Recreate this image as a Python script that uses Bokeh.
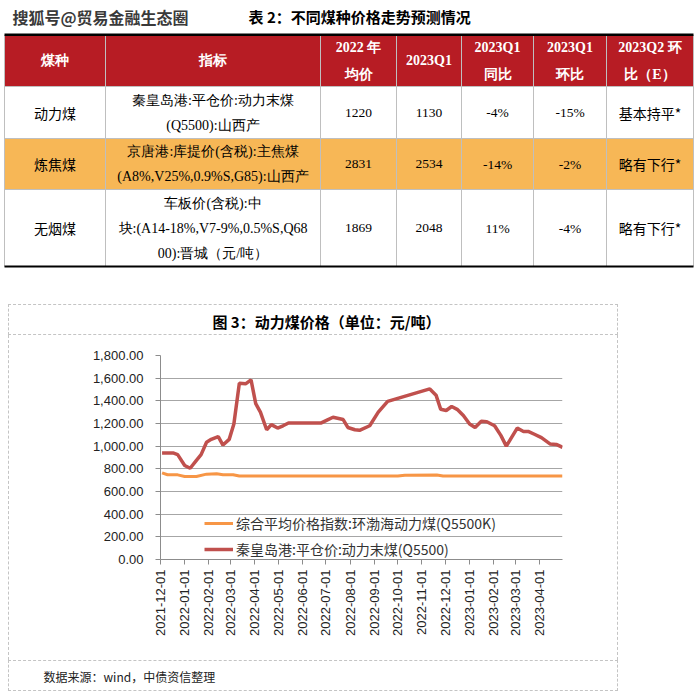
import math
import pandas as pd
from bokeh.plotting import figure
from bokeh.layouts import column, row
from bokeh.models import (Range1d, FixedTicker, NumeralTickFormatter, DatetimeTickFormatter,
                          Legend, LegendItem, ColumnDataSource, Spacer)
from bokeh.core.properties import value
from bokeh.embed import file_html
from bokeh.resources import INLINE

# ---------------- data ----------------
watermark = "搜狐号@贸易金融生态圈"
table_title = "表 2：不同煤种价格走势预测情况"
header_top = ["煤种", "指标", "2022 年", "2023Q1", "2023Q1", "2023Q1", "2023Q2 环"]
header_bottom = ["", "", "均价", "", "同比", "环比", "比（E）"]
coal_types = ["动力煤", "炼焦煤", "无烟煤"]
indicator_lines = [
    ["秦皇岛港:平仓价:动力末煤", "(Q5500):山西产"],
    ["京唐港:库提价(含税):主焦煤", "(A8%,V25%,0.9%S,G85):山西产"],
    ["车板价(含税):中", "块:(A14-18%,V7-9%,0.5%S,Q68", "00):晋城（元/吨）"],
]
avg_2022 = ["1220", "2831", "1869"]
q1_2023 = ["1130", "2534", "2048"]
q1_yoy = ["-4%", "-14%", "11%"]
q1_qoq = ["-15%", "-2%", "-4%"]
q2_outlook = ["基本持平*", "略有下行*", "略有下行*"]

chart_title = "图 3：动力煤价格（单位：元/吨）"
source_note = "数据来源：wind，中债资信整理"
series_names = ["综合平均价格指数:环渤海动力煤(Q5500K)", "秦皇岛港:平仓价:动力末煤(Q5500)"]
month_ticks = ["2021-12-01", "2022-01-01", "2022-02-01", "2022-03-01", "2022-04-01",
               "2022-05-01", "2022-06-01", "2022-07-01", "2022-08-01", "2022-09-01",
               "2022-10-01", "2022-11-01", "2022-12-01", "2023-01-01", "2023-02-01",
               "2023-03-01", "2023-04-01"]
y_ticks = [0, 200, 400, 600, 800, 1000, 1200, 1400, 1600, 1800]

index_dates = ["2021-12-03", "2021-12-10", "2021-12-23", "2022-01-01", "2022-01-16",
               "2022-01-29", "2022-02-11", "2022-02-19", "2022-03-04", "2022-03-12",
               "2022-10-01", "2022-10-10", "2022-11-20", "2022-11-28", "2023-04-30"]
index_values = [765, 748, 747, 733, 733, 753, 756, 748, 748, 736,
                736, 744, 746, 736, 736]

port_dates = ["2021-12-03", "2021-12-17", "2021-12-23", "2022-01-01", "2022-01-08",
              "2022-01-16", "2022-01-22", "2022-01-29", "2022-02-04", "2022-02-13",
              "2022-02-19", "2022-02-27", "2022-03-05", "2022-03-12", "2022-03-20",
              "2022-03-27", "2022-04-02", "2022-04-08", "2022-04-16", "2022-04-22",
              "2022-04-30", "2022-05-07", "2022-05-14", "2022-06-25", "2022-07-01",
              "2022-07-10", "2022-07-23", "2022-07-29", "2022-08-07", "2022-08-13",
              "2022-08-26", "2022-09-06", "2022-09-18", "2022-11-11", "2022-11-19",
              "2022-11-25", "2022-12-02", "2022-12-09", "2022-12-16", "2022-12-24",
              "2023-01-01", "2023-01-08", "2023-01-16", "2023-01-23", "2023-02-02",
              "2023-02-10", "2023-02-17", "2023-02-24", "2023-03-03", "2023-03-11",
              "2023-03-17", "2023-03-25", "2023-04-03", "2023-04-14", "2023-04-22",
              "2023-04-30"]
port_values = [940, 940, 925, 830, 805, 875, 925, 1035, 1060, 1085,
               1010, 1060, 1195, 1555, 1550, 1585, 1375, 1300, 1145, 1190,
               1160, 1180, 1205, 1205, 1225, 1255, 1235, 1165, 1145, 1140,
               1180, 1300, 1395, 1505, 1450, 1325, 1315, 1350, 1325, 1270,
               1195, 1165, 1220, 1215, 1180, 1095, 1000, 1080, 1160, 1130,
               1130, 1105, 1075, 1020, 1015, 990]

# ---------------- styles ----------------
RED_HEAD = "#B71C24"
ORANGE_ROW = "#F7B756"
GRID_GRAY = "#BFBFBF"
CJK = "Noto Sans CJK SC"
SERIF = "Liberation Serif"
SANS = "Liberation Sans"
DASH = "1px dashed #C4C4C4"

# ---------------- table figure (page px coordinates) ----------------
tp = figure(width=700, height=304, x_range=Range1d(0, 700), y_range=Range1d(304, 0),
            output_backend="svg", toolbar_location=None, min_border=0)
tp.axis.visible = False
tp.grid.visible = False
tp.outline_line_color = None

col_edges = [4, 105, 320, 396, 461, 533, 606, 693]
row_edges = [35, 86, 138, 189, 266]

tp.quad(left=col_edges[0], right=col_edges[-1], top=row_edges[0], bottom=row_edges[1],
        fill_color=RED_HEAD, line_color=None)
tp.quad(left=col_edges[0], right=col_edges[-1], top=row_edges[2], bottom=row_edges[3],
        fill_color=ORANGE_ROW, line_color=None)
# grid lines
tp.segment(x0=col_edges, x1=col_edges,
           y0=[row_edges[0]] * len(col_edges), y1=[row_edges[-1]] * len(col_edges),
           line_color=GRID_GRAY, line_width=1)
tp.segment(x0=[col_edges[0]] * 3, x1=[col_edges[-1]] * 3,
           y0=row_edges[1:4], y1=row_edges[1:4], line_color=GRID_GRAY, line_width=1)
tp.segment(x0=[col_edges[0]] * 2, x1=[col_edges[-1]] * 2, y0=[34.3, 266], y1=[34.3, 266],
           line_color="black", line_width=[2.6, 2])

tp.text(x=[12], y=[16], text=[watermark], text_font=value(CJK), text_font_style="bold",
        text_font_size="16px", text_color="#3A3A3A", text_baseline="middle")
tp.text(x=[248], y=[16], text=[table_title], text_font=value(CJK), text_font_style="bold",
        text_font_size="15px", text_color="black", text_baseline="middle")

hx, hy, ht = [], [], []
for i in range(7):
    cx = (col_edges[i] + col_edges[i + 1]) / 2
    if header_bottom[i] == "":
        hx.append(cx); hy.append(60); ht.append(header_top[i])
    else:
        hx += [cx, cx]; hy += [47, 74]; ht += [header_top[i], header_bottom[i]]
tp.text(x=hx, y=hy, text=ht, text_font=value(SERIF), text_font_style="bold",
        text_font_size="14px", text_color="white", text_align="center", text_baseline="middle")

bx, by, bt = [], [], []
ix, iy, it = [], [], []
nx, ny, nt = [], [], []
for r in range(3):
    rc = (row_edges[r + 1] + row_edges[r + 2]) / 2
    bx.append((col_edges[0] + col_edges[1]) / 2); by.append(rc); bt.append(coal_types[r])
    lines = indicator_lines[r]
    n = len(lines)
    for k, ln in enumerate(lines):
        ix.append((col_edges[1] + col_edges[2]) / 2)
        iy.append(rc + (k - (n - 1) / 2) * 25)
        it.append(ln)
    for c, vals in zip(range(2, 6), [avg_2022, q1_2023, q1_yoy, q1_qoq]):
        nx.append((col_edges[c] + col_edges[c + 1]) / 2); ny.append(rc); nt.append(vals[r])
    bx.append((col_edges[6] + col_edges[7]) / 2); by.append(rc); bt.append(q2_outlook[r])

tp.text(x=bx, y=by, text=bt, text_font=value(CJK), text_font_size="14px", text_color="black",
        text_align="center", text_baseline="middle")
tp.text(x=ix, y=iy, text=it, text_font=value(SERIF), text_font_size="14px", text_color="black",
        text_align="center", text_baseline="middle")
tp.text(x=nx, y=ny, text=nt, text_font=value(SERIF), text_font_size="13.5px", text_color="black",
        text_align="center", text_baseline="middle")

# ---------------- chart title ----------------
tf = figure(width=610, height=31, x_range=Range1d(8, 618), y_range=Range1d(335, 304),
            output_backend="svg", toolbar_location=None, min_border=0)
tf.axis.visible = False
tf.grid.visible = False
tf.outline_line_color = None
tf.text(x=[325], y=[320], text=[chart_title], text_font=value(CJK), text_font_style="bold",
        text_font_size="15px", text_color="black", text_align="center", text_baseline="middle")
tf.styles = {"border-top": DASH, "border-left": DASH, "border-right": DASH, "border-bottom": DASH}

# ---------------- chart ----------------
start = pd.Timestamp("2021-12-01")
end = pd.Timestamp("2023-04-30")
cp = figure(width=610, height=325, x_axis_type="datetime",
            x_range=Range1d(start, end), y_range=Range1d(0, 1800),
            output_backend="svg", toolbar_location=None,
            min_border_left=151, min_border_right=57, min_border_top=20, min_border_bottom=101)
cp.outline_line_color = None
cp.xgrid.visible = False
cp.ygrid.grid_line_color = "#A6A6A6"
cp.ygrid.grid_line_width = 1

cp.yaxis.ticker = FixedTicker(ticks=y_ticks)
cp.yaxis.formatter = NumeralTickFormatter(format="0,0.00")
tick_ms = [pd.Timestamp(t).value / 1e6 for t in month_ticks]
cp.xaxis.ticker = FixedTicker(ticks=tick_ms)
fmt = "%Y-%m-%d"
cp.xaxis.formatter = DatetimeTickFormatter(milliseconds=fmt, seconds=fmt, minsec=fmt, minutes=fmt,
                                           hourmin=fmt, hours=fmt, days=fmt, months=fmt, years=fmt)
cp.xaxis.major_label_orientation = math.pi / 2
for ax in cp.axis:
    ax.axis_line_color = "#8C8C8C"
    ax.major_tick_line_color = "#8C8C8C"
    ax.major_tick_in = 0
    ax.major_tick_out = 5
    ax.minor_tick_line_color = None
    ax.major_label_text_font = SANS
    ax.major_label_text_font_size = "13px"
    ax.major_label_text_color = "#222222"
cp.yaxis.major_label_standoff = 12
cp.xaxis.major_label_standoff = 5

idx_src = ColumnDataSource(dict(x=pd.to_datetime(index_dates), y=index_values))
port_src = ColumnDataSource(dict(x=pd.to_datetime(port_dates), y=port_values))
r1 = cp.line("x", "y", source=idx_src, line_color="#F79646", line_width=3)
r2 = cp.line("x", "y", source=port_src, line_color="#C0504D", line_width=3.5)

legend = Legend(items=[LegendItem(label=series_names[0], renderers=[r1]),
                       LegendItem(label=series_names[1], renderers=[r2])],
                location=(44, 0), orientation="vertical", padding=0, margin=0, spacing=6,
                glyph_width=29, glyph_height=20, label_standoff=3, label_height=20,
                label_text_font=CJK, label_text_font_size="14px", label_text_color="#333333",
                border_line_color=None, background_fill_alpha=0)
cp.add_layout(legend)
cp.styles = {"border-left": DASH, "border-right": DASH}

# ---------------- source note ----------------
sf = figure(width=610, height=31, x_range=Range1d(8, 618), y_range=Range1d(691, 660),
            output_backend="svg", toolbar_location=None, min_border=0)
sf.axis.visible = False
sf.grid.visible = False
sf.outline_line_color = None
sf.text(x=[42], y=[675], text=[source_note], text_font=value(CJK), text_font_size="12px",
        text_color="#222222", text_baseline="middle")
sf.styles = {"border-top": DASH, "border-left": DASH, "border-right": DASH, "border-bottom": DASH}

layout = column(row(tp),
                row(Spacer(width=8, height=31), tf),
                row(Spacer(width=8, height=325), cp),
                row(Spacer(width=8, height=31), sf), spacing=0)
open("out.html", "w").write(file_html(layout, INLINE))
